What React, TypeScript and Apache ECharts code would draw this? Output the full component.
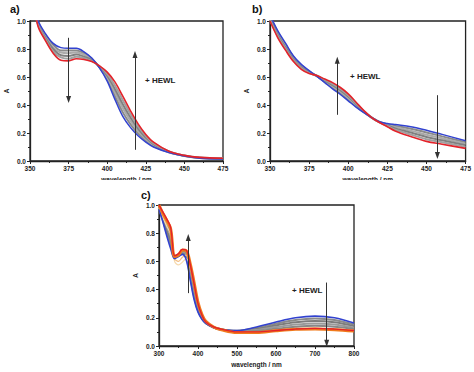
import React, { useEffect, useRef } from "react";
import * as echarts from "echarts";

// ---------- Panel a ----------
const xA = [350, 355, 360, 365, 370, 375, 380, 385, 390, 395, 400, 405, 410, 415, 420, 425, 430, 440, 450, 460, 475];
const blueA = [1.25, 1.01, 0.91, 0.84, 0.81, 0.805, 0.805, 0.78, 0.735, 0.665, 0.57, 0.44, 0.32, 0.24, 0.18, 0.135, 0.10, 0.06, 0.035, 0.02, 0.015];
const redA = [1.30, 0.97, 0.86, 0.77, 0.72, 0.715, 0.73, 0.725, 0.71, 0.68, 0.635, 0.565, 0.465, 0.36, 0.265, 0.19, 0.135, 0.07, 0.04, 0.026, 0.02];
const grayA1 = [1.26, 1.0, 0.90, 0.83, 0.79, 0.79, 0.79, 0.77, 0.73, 0.668, 0.583, 0.465, 0.349, 0.264, 0.197, 0.146, 0.107, 0.062, 0.036, 0.021, 0.016];
const grayA2 = [1.27, 0.995, 0.89, 0.81, 0.775, 0.77, 0.775, 0.76, 0.725, 0.671, 0.596, 0.49, 0.378, 0.288, 0.214, 0.157, 0.114, 0.064, 0.037, 0.022, 0.017];
const grayA3 = [1.28, 0.985, 0.88, 0.80, 0.755, 0.75, 0.76, 0.745, 0.72, 0.674, 0.609, 0.515, 0.407, 0.312, 0.231, 0.168, 0.121, 0.066, 0.038, 0.024, 0.018];
const grayA4 = [1.29, 0.98, 0.87, 0.78, 0.74, 0.73, 0.745, 0.735, 0.715, 0.677, 0.622, 0.54, 0.436, 0.336, 0.248, 0.179, 0.128, 0.068, 0.039, 0.025, 0.019];

// ---------- Panel b ----------
const xB = [350, 355, 360, 365, 370, 375, 380, 385, 390, 395, 400, 405, 410, 415, 420, 425, 430, 440, 450, 460, 475];
const blueB = [1.04, 0.93, 0.84, 0.75, 0.69, 0.645, 0.605, 0.56, 0.515, 0.475, 0.43, 0.385, 0.345, 0.31, 0.28, 0.268, 0.26, 0.245, 0.22, 0.19, 0.145];
const redB = [1.0, 0.88, 0.79, 0.71, 0.655, 0.625, 0.61, 0.585, 0.56, 0.525, 0.48, 0.42, 0.36, 0.31, 0.275, 0.245, 0.215, 0.175, 0.14, 0.12, 0.09];
const grayB1 = [1.032, 0.92, 0.83, 0.742, 0.683, 0.641, 0.606, 0.565, 0.524, 0.485, 0.44, 0.392, 0.348, 0.31, 0.279, 0.263, 0.251, 0.231, 0.204, 0.176, 0.134];
const grayB2 = [1.024, 0.91, 0.82, 0.734, 0.676, 0.637, 0.607, 0.57, 0.533, 0.495, 0.45, 0.399, 0.351, 0.31, 0.278, 0.259, 0.242, 0.217, 0.188, 0.162, 0.123];
const grayB3 = [1.016, 0.90, 0.81, 0.726, 0.669, 0.633, 0.608, 0.575, 0.542, 0.505, 0.46, 0.406, 0.354, 0.31, 0.277, 0.254, 0.233, 0.203, 0.172, 0.148, 0.112];
const grayB4 = [1.008, 0.89, 0.80, 0.718, 0.662, 0.629, 0.609, 0.58, 0.551, 0.515, 0.47, 0.413, 0.357, 0.31, 0.276, 0.25, 0.224, 0.189, 0.156, 0.134, 0.101];

// ---------- Panel c ----------
const xC = [300, 310, 320, 330, 340, 350, 360, 370, 380, 390, 400, 410, 420, 440, 460, 500, 550, 600, 650, 700, 750, 800];
const blueC = [0.97, 0.88, 0.78, 0.69, 0.62, 0.635, 0.65, 0.61, 0.47, 0.33, 0.24, 0.19, 0.16, 0.13, 0.115, 0.11, 0.135, 0.17, 0.20, 0.212, 0.20, 0.163];
const redC = [1.0, 0.95, 0.90, 0.84, 0.64, 0.655, 0.685, 0.68, 0.58, 0.44, 0.30, 0.22, 0.17, 0.135, 0.12, 0.10, 0.10, 0.11, 0.12, 0.125, 0.12, 0.11];
const orangeC = [1.0, 0.94, 0.89, 0.83, 0.635, 0.645, 0.68, 0.675, 0.585, 0.45, 0.31, 0.225, 0.175, 0.135, 0.115, 0.095, 0.095, 0.108, 0.118, 0.12, 0.116, 0.106];
const paleC1 = [0.98, 0.91, 0.85, 0.79, 0.60, 0.575, 0.595, 0.62, 0.56, 0.43, 0.30, 0.22, 0.17, 0.13, 0.113, 0.095, 0.097, 0.11, 0.122, 0.125, 0.12, 0.11];
const paleC2 = [0.99, 0.92, 0.87, 0.82, 0.62, 0.60, 0.63, 0.645, 0.57, 0.44, 0.305, 0.222, 0.172, 0.133, 0.115, 0.097, 0.098, 0.112, 0.123, 0.126, 0.121, 0.111];
const grayC1 = [0.975, 0.89, 0.80, 0.72, 0.625, 0.64, 0.655, 0.625, 0.49, 0.35, 0.25, 0.195, 0.162, 0.131, 0.116, 0.108, 0.128, 0.158, 0.184, 0.195, 0.184, 0.152];
const grayC2 = [0.98, 0.90, 0.82, 0.75, 0.63, 0.64, 0.66, 0.64, 0.51, 0.37, 0.26, 0.20, 0.164, 0.132, 0.117, 0.106, 0.121, 0.146, 0.168, 0.178, 0.168, 0.141];
const grayC3 = [0.985, 0.92, 0.85, 0.78, 0.635, 0.645, 0.67, 0.65, 0.535, 0.39, 0.275, 0.205, 0.166, 0.133, 0.118, 0.104, 0.114, 0.134, 0.152, 0.16, 0.152, 0.13];
const grayC4 = [0.99, 0.93, 0.87, 0.81, 0.64, 0.65, 0.675, 0.665, 0.555, 0.415, 0.285, 0.21, 0.168, 0.134, 0.119, 0.102, 0.107, 0.122, 0.136, 0.143, 0.136, 0.12];

// ---------- axes / annotations ----------
const yTicks = { min: 0, max: 1, interval: 0.2 };
const xAxesDef = [
  { min: 350, max: 475, interval: 25 },
  { min: 350, max: 475, interval: 25 },
  { min: 300, max: 800, interval: 100 },
];
const arrowsA = [
  [[375, 0.88], [375, 0.44]],
  [[418, 0.08], [418, 0.76]],
];
const arrowsB = [
  [[393, 0.33], [393, 0.72]],
  [[457, 0.47], [457, 0.04]],
];
const arrowsC = [
  [[375, 0.375], [375, 0.77]],
  [[730, 0.45], [730, 0.02]],
];
const annotationText = "+ HEWL";
const panelLabels = ["a)", "b)", "c)"];

const FONT = "'Liberation Sans', Arial, sans-serif";
const BLUE = "#3242cf";
const RED = "#e3232a";
const ORANGE = "#f07a1c";

function pairs(xs: number[], ys: number[]) {
  return xs.map((x, i) => [x, ys[i]]);
}

function line(idx: number, xs: number[], ys: number[], color: string, width: number, extra: any = {}) {
  return {
    type: "line",
    xAxisIndex: idx,
    yAxisIndex: idx,
    data: pairs(xs, ys),
    smooth: 0.35,
    showSymbol: false,
    symbol: "none",
    silent: true,
    clip: true,
    lineStyle: { color, width },
    ...extra,
  };
}

function arrows(list: number[][][]) {
  return {
    silent: true,
    symbol: ["none", "triangle"],
    symbolSize: [5, 7],
    label: { show: false },
    lineStyle: { color: "#333", width: 1, type: "solid" },
    data: list.map((seg) => [{ coord: seg[0] }, { coord: seg[1] }]),
  };
}

export default function App() {
  const ref = useRef<HTMLDivElement>(null);
  useEffect(() => {
    if (!ref.current) return;
    const chart = echarts.init(ref.current, null, { renderer: "svg" });
    const grids = [
      { left: 30, top: 21, width: 193, height: 140 },
      { left: 270, top: 21, width: 196, height: 140 },
      { left: 159, top: 205, width: 195, height: 141 },
    ];
    const axisCommon = {
      axisLine: { show: true, lineStyle: { color: "#222", width: 1.3 } },
      axisTick: { show: true, length: 3, lineStyle: { color: "#222", width: 1 } },
      minorTick: { show: true, splitNumber: 2, length: 2, lineStyle: { color: "#222", width: 1 } },
      splitLine: { show: false },
      axisLabel: { fontSize: 6.5, fontWeight: "bold", color: "#222", fontFamily: FONT, margin: 4 },
      nameTextStyle: { fontSize: 6.5, fontWeight: "bold", color: "#222", fontFamily: FONT },
    };
    const option: any = {
      animation: false,
      backgroundColor: "#fff",
      grid: grids.map((g) => ({ ...g, show: true, borderColor: "#222", borderWidth: 1.3, backgroundColor: "transparent" })),
      xAxis: xAxesDef.map((d, i) => ({
        type: "value",
        gridIndex: i,
        ...d,
        ...axisCommon,
        name: "wavelength / nm",
        nameLocation: "middle",
        nameGap: 15,
      })),
      yAxis: [0, 1, 2].map((i) => ({
        type: "value",
        gridIndex: i,
        ...yTicks,
        ...axisCommon,
        axisLabel: { ...axisCommon.axisLabel, formatter: (v: number) => v.toFixed(1) },
        name: "A",
        nameLocation: "middle",
        nameGap: 20,
        nameTextStyle: { ...axisCommon.nameTextStyle, fontSize: 7 },
      })),
      series: [
        // panel a
        line(0, xA, grayA1, "#8a8a8a", 2),
        line(0, xA, grayA2, "#aaaaaa", 2),
        line(0, xA, grayA3, "#808080", 2),
        line(0, xA, grayA4, "#a0a0a0", 2),
        line(0, xA, blueA, BLUE, 1.5),
        line(0, xA, redA, RED, 1.6, { markLine: arrows(arrowsA) }),
        // panel b
        line(1, xB, grayB1, "#8a8a8a", 2),
        line(1, xB, grayB2, "#aaaaaa", 2),
        line(1, xB, grayB3, "#808080", 2),
        line(1, xB, grayB4, "#a0a0a0", 2),
        line(1, xB, blueB, BLUE, 1.5),
        line(1, xB, redB, RED, 1.6, { markLine: arrows(arrowsB) }),
        // panel c
        line(2, xC, grayC1, "#8a8a8a", 2),
        line(2, xC, grayC2, "#7c7c7c", 2),
        line(2, xC, grayC3, "#9a9a9a", 2),
        line(2, xC, grayC4, "#888888", 2),
        line(2, xC, paleC1, "#f6d9ad", 1.2),
        line(2, xC, paleC2, "#f2bc80", 1.2),
        line(2, xC, blueC, BLUE, 1.6),
        line(2, xC, orangeC, ORANGE, 3),
        line(2, xC, redC, RED, 1.4, { markLine: arrows(arrowsC) }),
      ],
      graphic: [
        { type: "rect", left: 0, top: 180, shape: { width: 474, height: 10 }, style: { fill: "#fff" }, z: 100 },
        { type: "text", left: 10, top: 3, z: 101, style: { text: panelLabels[0], font: `bold 11px ${FONT}`, fill: "#111" } },
        { type: "text", left: 252, top: 3, z: 101, style: { text: panelLabels[1], font: `bold 11px ${FONT}`, fill: "#111" } },
        { type: "text", left: 141, top: 189, z: 101, style: { text: panelLabels[2], font: `bold 11px ${FONT}`, fill: "#111" } },
        { type: "text", left: 145, top: 76, z: 101, style: { text: annotationText, font: `bold 8px ${FONT}`, fill: "#222" } },
        { type: "text", left: 350, top: 72, z: 101, style: { text: annotationText, font: `bold 8px ${FONT}`, fill: "#222" } },
        { type: "text", left: 292, top: 286, z: 101, style: { text: annotationText, font: `bold 8px ${FONT}`, fill: "#222" } },
      ],
    };
    chart.setOption(option);
    return () => chart.dispose();
  }, []);
  return (
    <div
      ref={ref}
      style={{ position: "fixed", left: 0, top: 0, width: 474, height: 372, background: "#fff" }}
    />
  );
}
